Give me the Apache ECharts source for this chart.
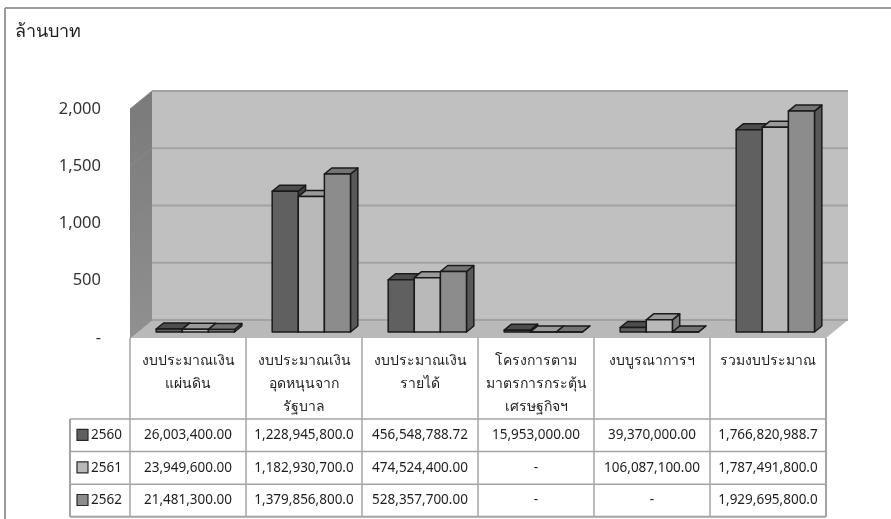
<!DOCTYPE html>
<html>
<head>
<meta charset="utf-8">
<script src="https://cdn.jsdelivr.net/npm/echarts@6/dist/echarts.min.js"></script>
<style>
  html, body { margin: 0; padding: 0; background: #ffffff; }
  #chart { width: 891px; height: 519px; }
</style>
</head>
<body>
<div id="chart"></div>
<script>
// Budget categories (table header text)
const categories = [
  'งบประมาณเงิน\nแผ่นดิน',
  'งบประมาณเงิน\nอุดหนุนจาก\nรัฐบาล',
  'งบประมาณเงิน\nรายได้',
  'โครงการตาม\nมาตรการกระตุ้น\nเศรษฐกิจฯ',
  'งบบูรณาการฯ',
  'รวมงบประมาณ'
];
const years = ['2560', '2561', '2562'];
// Budget amounts in baht, one array per fiscal year
const budget2560 = [26003400.00, 1228945800.00, 456548788.72, 15953000.00, 39370000.00, 1766820988.72];
const budget2561 = [23949600.00, 1182930700.00, 474524400.00, 0, 106087100.00, 1787491800.00];
const budget2562 = [21481300.00, 1379856800.00, 528357700.00, 0, 0, 1929695800.00];
const yTicks = [0, 500, 1000, 1500, 2000];

const budgets = [budget2560, budget2561, budget2562];
const UNIT = 1e6; // axis is in million baht

// face shades per year: front, top, side
const shades = [
  { front: '#606060', top: '#4d4d4d', side: '#404040' },
  { front: '#b9b9b9', top: '#9a9a9a', side: '#7c7c7c' },
  { front: '#8c8c8c', top: '#747474', side: '#585858' }
];

// 3-D depth of the plot box (screen offset from front edge to back wall)
const DX = 22, DY = -18;
const BAR_NEAR = 1 / 3, BAR_FAR = 2 / 3;
const BAR_FRAC = 0.225;
const EDGE = '#1a1a1a';

// table layout
const HEADER_H = 81, ROW_H = 32.6, LEGEND_W = 60;
const GRID_LINE = '#a4a4a4';
const FONT = '"Noto Sans", "DejaVu Sans", sans-serif';
const HEAD_FONT = '14px ' + FONT;
const CELL_FONT = '13.5px ' + FONT;

function fmtBaht(v) {
  if (!v) return '-';
  const digits = v >= 1e9 ? 1 : 2;
  return v.toLocaleString('en-US', { minimumFractionDigits: digits, maximumFractionDigits: digits });
}

function renderWalls(params, api) {
  const cs = params.coordSys;
  const x0 = cs.x, x1 = cs.x + cs.width;
  const yTop = cs.y, yBot = cs.y + cs.height;
  const children = [];
  // back wall
  children.push({ type: 'rect', shape: { x: x0 + DX, y: yTop + DY, width: cs.width, height: cs.height },
    style: { fill: '#c0c0c0' } });
  // left side wall
  children.push({ type: 'polygon', shape: { points: [[x0, yBot], [x0, yTop], [x0 + DX, yTop + DY], [x0 + DX, yBot + DY]] },
    style: { fill: new echarts.graphic.LinearGradient(0, 0, 0, 1, [
      { offset: 0, color: '#7a7a7a' }, { offset: 1, color: '#909090' }]) } });
  // floor
  children.push({ type: 'polygon', shape: { points: [[x0, yBot], [x1, yBot], [x1 + DX, yBot + DY], [x0 + DX, yBot + DY]] },
    style: { fill: '#b9b9b9' } });
  // gridlines on back wall and left wall
  yTicks.forEach(function (v) {
    const y = api.coord([0, v])[1];
    children.push({ type: 'line', shape: { x1: x0 + DX, y1: y + DY, x2: x1 + DX, y2: y + DY },
      style: { stroke: '#a2a2a2', lineWidth: 2 } });
    children.push({ type: 'line', shape: { x1: x0, y1: y, x2: x0 + DX, y2: y + DY },
      style: { stroke: '#8a8a8a', lineWidth: 1 } });
  });
  return { type: 'group', children: children };
}

function barRenderer(s) {
  return function (params, api) {
    const cat = api.value(0), val = api.value(1);
    const base = api.coord([cat, 0]);
    const top = api.coord([cat, val]);
    const band = api.size([1, 0])[0];
    const w = band * BAR_FRAC;
    const fx = DX * BAR_NEAR, fy = DY * BAR_NEAR;
    const bx = DX * (BAR_FAR - BAR_NEAR), by = DY * (BAR_FAR - BAR_NEAR);
    const xa = base[0] - 1.5 * w + s * w + fx;
    const xb = xa + w;
    const yb = base[1] + fy, yt = top[1] + fy;
    const sh = shades[s];
    const st = function (fill) { return { fill: fill, stroke: EDGE, lineWidth: 1.5, lineJoin: 'round' }; };
    return {
      type: 'group',
      children: [
        { type: 'polygon', shape: { points: [[xb, yt], [xb + bx, yt + by], [xb + bx, yb + by], [xb, yb]] }, style: st(sh.side) },
        { type: 'polygon', shape: { points: [[xa, yt], [xb, yt], [xb + bx, yt + by], [xa + bx, yt + by]] }, style: st(sh.top) },
        { type: 'rect', shape: { x: xa, y: yt, width: w, height: yb - yt }, style: st(sh.front) }
      ]
    };
  };
}

function renderTable(params, api) {
  const cs = params.coordSys;
  const cat = api.value(0);
  const xc = api.coord([cat, 0])[0];
  const band = api.size([1, 0])[0];
  const left = xc - band / 2, right = xc + band / 2;
  const headTop = cs.y + cs.height;
  const rowsTop = headTop + HEADER_H;
  const bottom = rowsTop + ROW_H * years.length;
  const children = [];
  const line = function (xa, ya, xb, yb, wdt) {
    children.push({ type: 'line', shape: { x1: xa, y1: ya, x2: xb, y2: yb },
      style: { stroke: GRID_LINE, lineWidth: wdt || 1.5 } });
  };
  line(left, headTop, left, bottom);
  if (cat === categories.length - 1) line(right, headTop, right, bottom, 2);
  for (let r = 0; r <= years.length; r++) {
    line(left, rowsTop + r * ROW_H, right, rowsTop + r * ROW_H, r === years.length ? 2 : 1.5);
  }
  children.push({ type: 'text', x: xc, y: headTop + 12,
    style: { text: categories[cat], fill: '#1e1e1e', font: HEAD_FONT, align: 'center', verticalAlign: 'top', lineHeight: 23 } });
  budgets.forEach(function (arr, r) {
    children.push({ type: 'text', x: xc, y: rowsTop + (r + 0.5) * ROW_H,
      style: { text: fmtBaht(arr[cat]), fill: '#1e1e1e', font: CELL_FONT, align: 'center', verticalAlign: 'middle' } });
  });
  if (cat === 0) {
    const lx = left - LEGEND_W;
    line(lx, rowsTop, lx, bottom, 2);
    for (let r = 0; r <= years.length; r++) {
      line(lx, rowsTop + r * ROW_H, left, rowsTop + r * ROW_H, r === years.length ? 2 : 1.5);
    }
    years.forEach(function (yr, r) {
      const cy = rowsTop + (r + 0.5) * ROW_H;
      children.push({ type: 'rect', shape: { x: lx + 7, y: cy - 6, width: 11, height: 11 },
        style: { fill: shades[r].front, stroke: '#2a2a2a', lineWidth: 1.2 } });
      children.push({ type: 'text', x: lx + 21, y: cy,
        style: { text: yr, fill: '#1e1e1e', font: CELL_FONT, align: 'left', verticalAlign: 'middle' } });
    });
  }
  return { type: 'group', children: children };
}

const chart = echarts.init(document.getElementById('chart'), null, { renderer: 'canvas' });

const barSeries = budgets.map(function (arr, s) {
  return {
    name: years[s],
    type: 'custom',
    z: 3 + s,
    silent: true,
    renderItem: barRenderer(s),
    data: arr.map(function (v, i) { return [i, v / UNIT]; })
  };
});

chart.setOption({
  animation: false,
  backgroundColor: '#ffffff',
  title: {
    text: 'ล้านบาท', left: 15, top: 23, padding: 0,
    textStyle: { fontSize: 18, fontWeight: 'normal', color: '#1e1e1e', fontFamily: FONT }
  },
  graphic: [
    { type: 'line', shape: { x1: 5, y1: 8, x2: 891, y2: 8 }, style: { stroke: '#9c9c9c', lineWidth: 2 } },
    { type: 'line', shape: { x1: 5, y1: 8, x2: 5, y2: 519 }, style: { stroke: '#9c9c9c', lineWidth: 2 } }
  ],
  grid: { left: 130, top: 109, width: 696, height: 229 },
  xAxis: {
    type: 'category', data: categories,
    axisLine: { show: false }, axisTick: { show: false }, axisLabel: { show: false }, splitLine: { show: false }
  },
  yAxis: {
    type: 'value', min: 0, max: 2000, interval: 500,
    axisLine: { show: false }, axisTick: { show: false }, splitLine: { show: false },
    axisLabel: {
      margin: 29, fontSize: 16.5, color: '#333', fontFamily: FONT,
      formatter: function (v) { return v === 0 ? '-' : v.toLocaleString('en-US'); }
    }
  },
  series: [
    { type: 'custom', z: 1, silent: true, renderItem: renderWalls, data: [[0, 0]] }
  ].concat(barSeries).concat([
    { type: 'custom', z: 10, silent: true, renderItem: renderTable, data: categories.map(function (c, i) { return [i, 0]; }) }
  ])
});
</script>
</body>
</html>
